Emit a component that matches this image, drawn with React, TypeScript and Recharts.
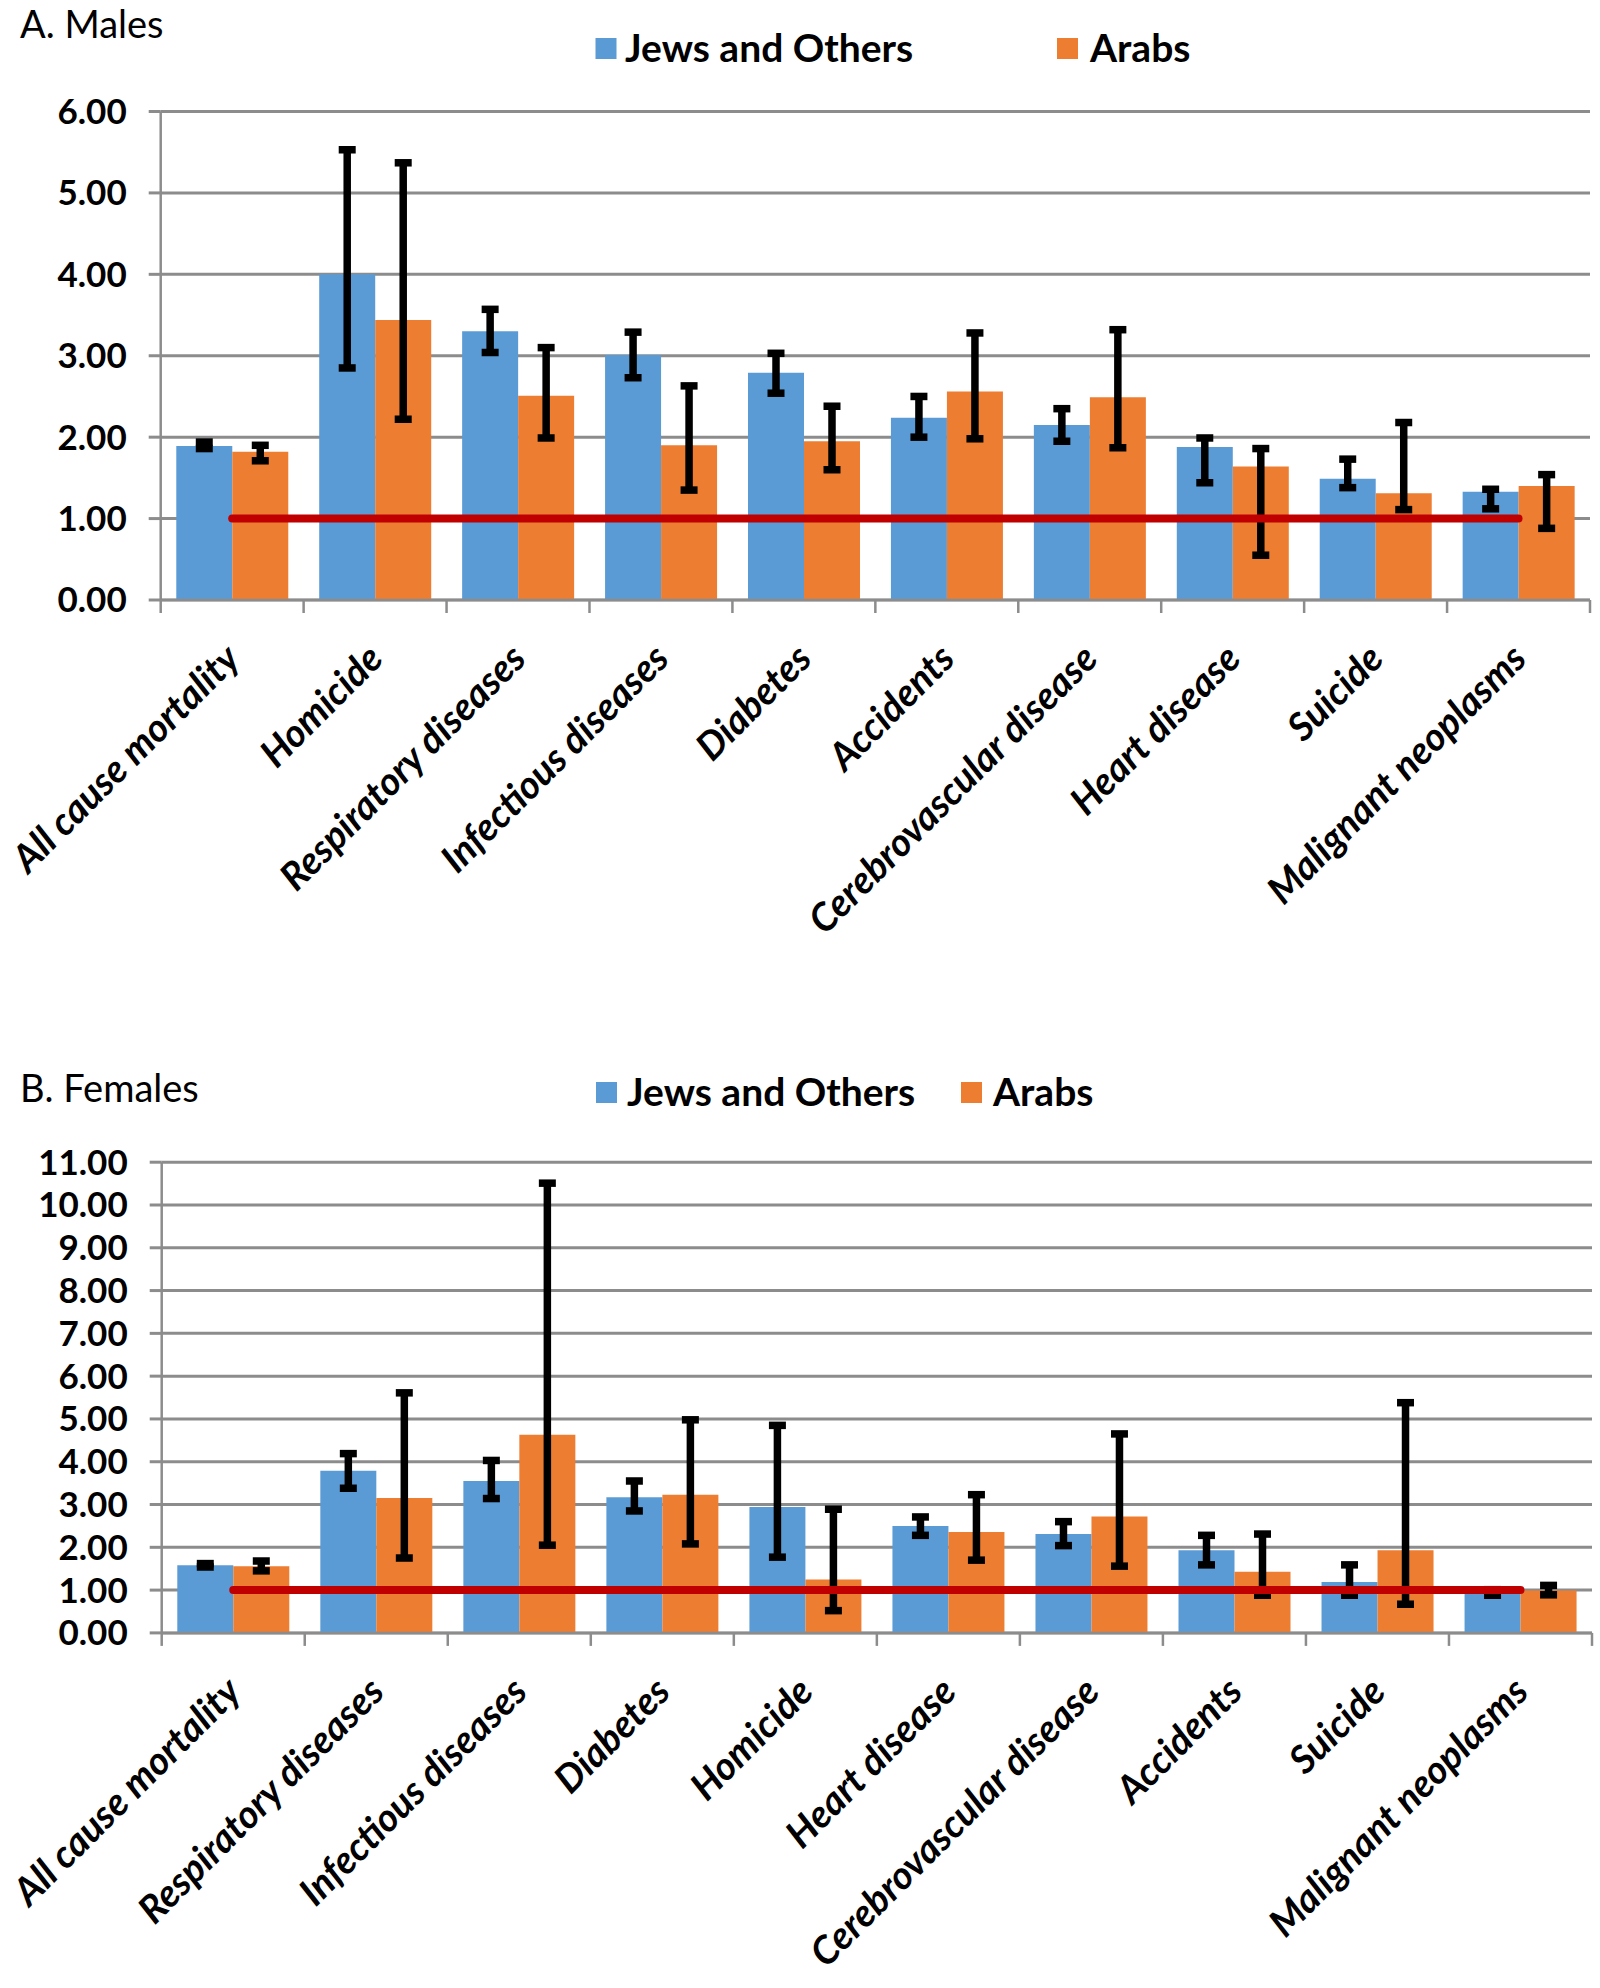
import React from "react";
import { ComposedChart, Bar, Line, XAxis, YAxis, CartesianGrid, ErrorBar, Legend } from "recharts";

// A. Males
const malesCauses = [
  "All cause mortality",
  "Homicide",
  "Respiratory diseases",
  "Infectious diseases",
  "Diabetes",
  "Accidents",
  "Cerebrovascular disease",
  "Heart disease",
  "Suicide",
  "Malignant neoplasms",
];
const malesJews = [1.89, 4.0, 3.3, 3.01, 2.79, 2.24, 2.15, 1.88, 1.49, 1.33];
const malesJewsLow = [1.86, 2.85, 3.04, 2.73, 2.54, 2.0, 1.95, 1.44, 1.38, 1.12];
const malesJewsHigh = [1.94, 5.53, 3.57, 3.29, 3.03, 2.5, 2.35, 1.99, 1.73, 1.36];
const malesArabs = [1.82, 3.44, 2.51, 1.9, 1.95, 2.56, 2.49, 1.64, 1.31, 1.4];
const malesArabsLow = [1.71, 2.22, 1.99, 1.35, 1.6, 1.98, 1.87, 0.55, 1.11, 0.88];
const malesArabsHigh = [1.9, 5.37, 3.1, 2.63, 2.38, 3.28, 3.32, 1.86, 2.18, 1.54];
const malesTicks = [0, 1, 2, 3, 4, 5, 6];

// B. Females
const femalesCauses = [
  "All cause mortality",
  "Respiratory diseases",
  "Infectious diseases",
  "Diabetes",
  "Homicide",
  "Heart disease",
  "Cerebrovascular disease",
  "Accidents",
  "Suicide",
  "Malignant neoplasms",
];
const femalesJews = [1.58, 3.79, 3.55, 3.17, 2.94, 2.5, 2.31, 1.93, 1.19, 0.94];
const femalesJewsLow = [1.54, 3.38, 3.14, 2.85, 1.77, 2.28, 2.04, 1.59, 0.88, 0.88];
const femalesJewsHigh = [1.62, 4.19, 4.03, 3.55, 4.85, 2.71, 2.6, 2.28, 1.59, 1.01];
const femalesArabs = [1.56, 3.15, 4.63, 3.23, 1.25, 2.36, 2.72, 1.43, 1.93, 0.99];
const femalesArabsLow = [1.45, 1.75, 2.05, 2.08, 0.52, 1.7, 1.56, 0.88, 0.67, 0.89];
const femalesArabsHigh = [1.68, 5.61, 10.51, 4.98, 2.89, 3.23, 4.65, 2.31, 5.38, 1.11];
const femalesTicks = [0, 1, 2, 3, 4, 5, 6, 7, 8, 9, 10, 11];

const seriesNames = ["Jews and Others", "Arabs"];
const REFERENCE = 1;

const BLUE = "#5B9BD5";
const ORANGE = "#ED7D31";
const RED = "#C00000";
const GRID = "#8C8C8C";
const FONT = "Lato, 'Open Sans', sans-serif";
const W = 1600;

function buildData(
  causes: string[],
  jews: number[],
  jewsLow: number[],
  jewsHigh: number[],
  arabs: number[],
  arabsLow: number[],
  arabsHigh: number[]
) {
  return causes.map((cause, i) => ({
    cause,
    jews: jews[i],
    jewsErr: [jews[i] - jewsLow[i], jewsHigh[i] - jews[i]],
    arabs: arabs[i],
    arabsErr: [arabs[i] - arabsLow[i], arabsHigh[i] - arabs[i]],
    baseline: REFERENCE,
  }));
}

const malesData = buildData(malesCauses, malesJews, malesJewsLow, malesJewsHigh, malesArabs, malesArabsLow, malesArabsHigh);
const femalesData = buildData(
  femalesCauses,
  femalesJews,
  femalesJewsLow,
  femalesJewsHigh,
  femalesArabs,
  femalesArabsLow,
  femalesArabsHigh
);

// category ticks sit between groups, labels rotated like Excel's -45°
function makeTick(count: number, band: number) {
  return (props: any) => {
    const { x, y, payload, index } = props;
    const half = payload.offset || band / 2;
    return (
      <g>
        <line x1={x - half} y1={y} x2={x - half} y2={y + 13} stroke={GRID} strokeWidth={2.5} />
        {index === count - 1 && <line x1={x + half} y1={y} x2={x + half} y2={y + 13} stroke={GRID} strokeWidth={2.5} />}
        <text
          transform={`translate(${x + 10},${y + 61}) rotate(-45)`}
          textAnchor="end"
          fontFamily={FONT}
          fontWeight={700}
          fontStyle="italic"
          fontSize={38.5}
          fill="#000"
        >
          {payload.value}
        </text>
      </g>
    );
  };
}

function makeLegend(spots: number[][], top: number) {
  return ({ payload }: any) => {
    const items = (payload || []).filter((p: any) => seriesNames.includes(p.value));
    return (
      <svg width={W} height={top + 40}>
        {items.map((p: any) => {
          const spot = spots[seriesNames.indexOf(p.value)];
          return (
            <g key={p.value}>
              <rect x={spot[0]} y={top} width={21} height={21} fill={p.color} />
              <text x={spot[1]} y={top + 24} fontFamily={FONT} fontWeight={700} fontSize={39} fill="#000">
                {p.value}
              </text>
            </g>
          );
        })}
      </svg>
    );
  };
}

interface PanelProps {
  title: string;
  titleY: number;
  data: ReturnType<typeof buildData>;
  ticks: number[];
  top: number;
  height: number;
  margin: { top: number; right: number; bottom: number; left: number };
  xHeight: number;
  legendSpots: number[][];
  legendTop: number;
}

function Panel(p: PanelProps) {
  const yWidth = 120;
  const band = (W - p.margin.left - yWidth - p.margin.right) / p.data.length;
  return (
    <div style={{ position: "absolute", left: 0, top: p.top, width: W, height: p.height }}>
      <svg width={600} height={130} style={{ position: "absolute", left: 0, top: 0 }}>
        <text x={20} y={p.titleY} fontFamily={FONT} fontSize={38} fill="#000">
          {p.title}
        </text>
      </svg>
      <ComposedChart
        width={W}
        height={p.height}
        data={p.data}
        margin={p.margin}
        barCategoryGap="10.9%"
        barGap={0}
      >
        <CartesianGrid horizontal vertical={false} stroke={GRID} strokeWidth={3} />
        <XAxis
          dataKey="cause"
          height={p.xHeight}
          interval={0}
          axisLine={{ stroke: GRID, strokeWidth: 2.5 }}
          tickLine={false}
          tickSize={0}
          tickMargin={0}
          tick={makeTick(p.data.length, band)}
        />
        <YAxis
          width={yWidth}
          domain={[p.ticks[0], p.ticks[p.ticks.length - 1]]}
          ticks={p.ticks}
          interval={0}
          tickFormatter={(v: number) => v.toFixed(2)}
          tickSize={12}
          tickMargin={22}
          tickLine={{ stroke: GRID, strokeWidth: 3 }}
          axisLine={{ stroke: GRID, strokeWidth: 2.5 }}
          tick={{ fontFamily: FONT, fontWeight: 700, fontSize: 35, fill: "#000" }}
        />
        <Legend
          layout="horizontal"
          verticalAlign="middle"
          align="center"
          wrapperStyle={{ top: 0, left: 0, width: W }}
          content={makeLegend(p.legendSpots, p.legendTop)}
        />
        <Bar dataKey="jews" name={seriesNames[0]} fill={BLUE} isAnimationActive={false}>
          <ErrorBar dataKey="jewsErr" direction="y" width={8.5} strokeWidth={7.5} stroke="#000" isAnimationActive={false} />
        </Bar>
        <Bar dataKey="arabs" name={seriesNames[1]} fill={ORANGE} isAnimationActive={false}>
          <ErrorBar dataKey="arabsErr" direction="y" width={8.5} strokeWidth={7.5} stroke="#000" isAnimationActive={false} />
        </Bar>
        <Line
          type="linear"
          dataKey="baseline"
          stroke={RED}
          strokeWidth={8}
          strokeLinecap="round"
          dot={false}
          activeDot={false}
          legendType="none"
          isAnimationActive={false}
        />
      </ComposedChart>
    </div>
  );
}

export default function App() {
  return (
    <div style={{ position: "absolute", left: 0, top: 0, width: W, height: 1988, background: "#fff" }}>
      <Panel
        title="A. Males"
        titleY={37.5}
        data={malesData}
        ticks={malesTicks}
        top={0}
        height={1000}
        margin={{ top: 111.5, right: 10, bottom: 20, left: 40.7 }}
        xHeight={380}
        legendSpots={[
          [595.5, 625],
          [1057, 1090],
        ]}
        legendTop={38}
      />
      <Panel
        title="B. Females"
        titleY={102}
        data={femalesData}
        ticks={femalesTicks}
        top={1000}
        height={988}
        margin={{ top: 162.2, right: 8, bottom: 15.1, left: 41.7 }}
        xHeight={340}
        legendSpots={[
          [596, 627],
          [961, 993],
        ]}
        legendTop={82}
      />
    </div>
  );
}
